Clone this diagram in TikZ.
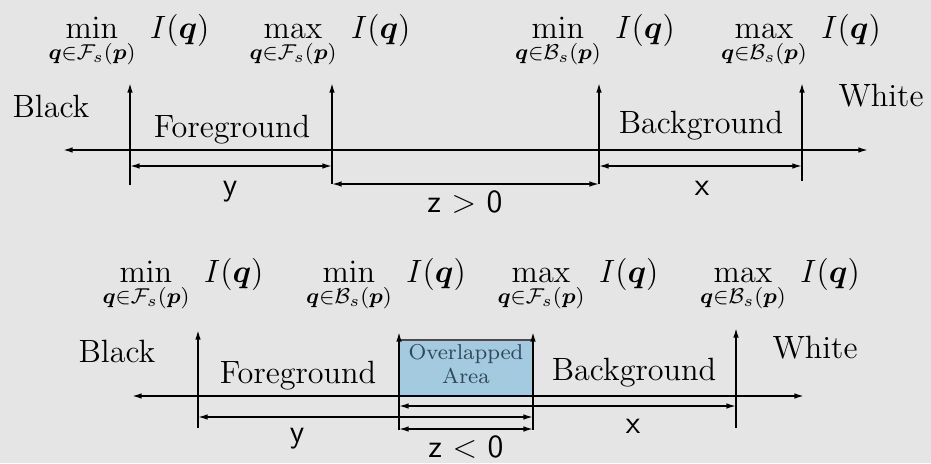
\documentclass[tikz,border=0pt]{standalone}
\usepackage{amsmath,bm}
\usetikzlibrary{arrows.meta}
\definecolor{bgc}{RGB}{229,229,229}
\definecolor{ovl}{RGB}{163,202,222}
\definecolor{ovt}{RGB}{48,72,92}
\definecolor{ovb}{RGB}{70,75,85}
\tikzset{
  tip/.tip={Latex[length=3.6pt,width=2.1pt]},
  axisline/.style={line width=0.6pt,tip-tip},
  dimline/.style={line width=0.55pt,tip-tip},
  tickarrow/.style={line width=0.6pt,-tip},
  word/.style={font=\fontsize{12}{14}\selectfont,anchor=base,inner sep=0pt},
  mlabel/.style={font=\fontsize{12}{14}\selectfont,anchor=base,inner sep=0pt},
  dlabel/.style={font=\fontsize{12}{14}\selectfont\sffamily,anchor=base,inner sep=0pt},
  ovtext/.style={font=\fontsize{8}{8.9}\selectfont,text=ovt,align=center,inner sep=0pt},
}
\begin{document}
\begin{tikzpicture}[x=0.3724pt,y=-0.3724pt]
\fill[bgc] (0,0) rectangle (931,463);
\useasboundingbox (0,0) rectangle (931,463);

% ===== top diagram =====
\coordinate (aL) at (63,150);
\coordinate (aR) at (868,150);
\coordinate (t1b) at (130,185); \coordinate (t1t) at (130,83);
\coordinate (t2b) at (332,184); \coordinate (t2t) at (332,83);
\coordinate (t3b) at (599,184); \coordinate (t3t) at (599,83);
\coordinate (t4b) at (802,181); \coordinate (t4t) at (802,83);
\coordinate (ya) at (130,166); \coordinate (yb) at (332,166);
\coordinate (xa) at (599,166); \coordinate (xb) at (802,166);
\coordinate (za) at (332,184); \coordinate (zb) at (599,184);

\draw[axisline] (aL) -- (aR);
\draw[tickarrow] (t1b) -- (t1t);
\draw[tickarrow] (t2b) -- (t2t);
\draw[tickarrow] (t3b) -- (t3t);
\draw[tickarrow] (t4b) -- (t4t);
\draw[dimline] (ya) -- (yb);
\draw[dimline] (xa) -- (xb);
\draw[dimline] (za) -- (zb);

\node[mlabel] (m1) at (129,38) {$\displaystyle\min_{\bm{q}\in\mathcal{F}_s(\bm{p})}\;I(\bm{q})$};
\node[mlabel] (m2) at (330,38) {$\displaystyle\max_{\bm{q}\in\mathcal{F}_s(\bm{p})}\;I(\bm{q})$};
\node[mlabel] (m3) at (595,38) {$\displaystyle\min_{\bm{q}\in\mathcal{B}_s(\bm{p})}\;I(\bm{q})$};
\node[mlabel] (m4) at (801,38) {$\displaystyle\max_{\bm{q}\in\mathcal{B}_s(\bm{p})}\;I(\bm{q})$};

\node[word] (black1) at (51,117) {Black};
\node[word] (fg1) at (232,137) {Foreground};
\node[word] (bg1) at (701,133) {Background};
\node[word] (white1) at (881,106) {White};

\node[dlabel] (ly1) at (230,195) {y};
\node[dlabel] (lx1) at (702,195) {x};
\node[dlabel] (lz1) at (465,212) {z\ $>$\ 0};

% ===== bottom diagram =====
\draw[ovb,line width=0.5pt,fill=ovl] (399,396) -- (399,340) -- (533,340) -- (533,396);
\node[ovtext] (ov) at (466,364) {Overlapped\\Area};

\coordinate (bL) at (132,396);
\coordinate (bR) at (804,396);
\coordinate (s1b) at (198,428); \coordinate (s1t) at (198,330);
\coordinate (s2b) at (399,430); \coordinate (s2t) at (399,332);
\coordinate (s3b) at (533,430); \coordinate (s3t) at (533,332);
\coordinate (s4b) at (736,428); \coordinate (s4t) at (736,328);
\coordinate (ya2) at (198,417); \coordinate (yb2) at (533,417);
\coordinate (xa2) at (399,406); \coordinate (xb2) at (736,406);
\coordinate (za2) at (399,429); \coordinate (zb2) at (533,429);

\draw[axisline] (bL) -- (bR);
\draw[tickarrow] (s1b) -- (s1t);
\draw[tickarrow] (s2b) -- (s2t);
\draw[tickarrow] (s3b) -- (s3t);
\draw[tickarrow] (s4b) -- (s4t);
\draw[dimline] (ya2) -- (yb2);
\draw[dimline] (xa2) -- (xb2);
\draw[dimline] (za2) -- (zb2);

\node[mlabel] (n1) at (183,282) {$\displaystyle\min_{\bm{q}\in\mathcal{F}_s(\bm{p})}\;I(\bm{q})$};
\node[mlabel] (n2) at (386,282) {$\displaystyle\min_{\bm{q}\in\mathcal{B}_s(\bm{p})}\;I(\bm{q})$};
\node[mlabel] (n3) at (578,282) {$\displaystyle\max_{\bm{q}\in\mathcal{F}_s(\bm{p})}\;I(\bm{q})$};
\node[mlabel] (n4) at (780,282) {$\displaystyle\max_{\bm{q}\in\mathcal{B}_s(\bm{p})}\;I(\bm{q})$};

\node[word] (black2) at (117,362) {Black};
\node[word] (fg2) at (298,383) {Foreground};
\node[word] (bg2) at (634,380) {Background};
\node[word] (white2) at (815,358) {White};

\node[dlabel] (ly2) at (297,442) {y};
\node[dlabel] (lx2) at (633,433) {x};
\node[dlabel] (lz2) at (466,457) {z\ $<$\ 0};
\end{tikzpicture}
\end{document}
